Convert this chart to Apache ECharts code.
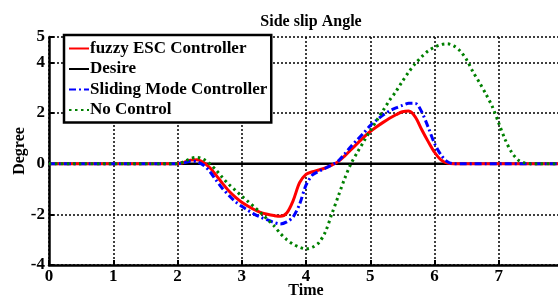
<!DOCTYPE html>
<html>
<head>
<meta charset="utf-8">
<script src="https://cdn.jsdelivr.net/npm/echarts@6/dist/echarts.min.js"></script>
<style>
  html, body { margin: 0; padding: 0; background: #fff; overflow: hidden; }
  #chart { width: 558px; height: 296px; }
</style>
</head>
<body>
<div id="chart"></div>
<script>
  // sample times (s)
  const times = [0, 2.0, 2.1, 2.2, 2.3, 2.4, 2.5, 2.6, 2.7, 2.8, 2.9,
    3.0, 3.1, 3.2, 3.3, 3.4, 3.5, 3.6, 3.7, 3.8, 3.9,
    4.0, 4.1, 4.2, 4.3, 4.4, 4.5, 4.6, 4.7, 4.8, 4.9,
    5.0, 5.1, 5.2, 5.3, 5.4, 5.5, 5.6, 5.7, 5.8, 5.9,
    6.0, 6.1, 6.2, 6.3, 6.4, 6.5, 6.6, 6.7, 6.8, 6.9,
    7.0, 7.1, 7.2, 7.3, 7.4, 7.5, 7.6, 8.0]

  const fuzzyEsc = [0, 0, 0.05, 0.14, 0.15, 0.05, -0.15, -0.45, -0.78, -1.08, -1.32,
    -1.52, -1.68, -1.82, -1.93, -2.0, -2.05, -2.08, -1.95, -1.46, -0.75,
    -0.42, -0.32, -0.25, -0.17, -0.06, 0.08, 0.3, 0.55, 0.8, 1.05,
    1.27, 1.46, 1.63, 1.79, 1.93, 2.05, 2.08, 1.85, 1.35, 0.88,
    0.45, 0.15, 0.02, 0, 0, 0, 0, 0, 0, 0,
    0, 0, 0, 0, 0, 0, 0, 0]

  const desire = times.map(() => 0)

  const slidingMode = [0, 0, 0.03, 0.1, 0.08, -0.05, -0.3, -0.65, -0.98, -1.25, -1.5,
    -1.68, -1.85, -2.0, -2.12, -2.22, -2.32, -2.38, -2.3, -2.1, -1.6,
    -0.85, -0.45, -0.3, -0.18, -0.05, 0.1, 0.38, 0.68, 0.95, 1.22,
    1.5, 1.72, 1.92, 2.08, 2.2, 2.3, 2.38, 2.38, 2.05, 1.45,
    0.8, 0.35, 0.08, 0, 0, 0, 0, 0, 0, 0,
    0, 0, 0, 0, 0, 0, 0, 0]

  const noControl = [0, 0, 0.08, 0.2, 0.25, 0.18, 0.0, -0.25, -0.55, -0.82, -1.05,
    -1.28, -1.5, -1.72, -1.95, -2.2, -2.45, -2.75, -3.0, -3.18, -3.3,
    -3.36, -3.3, -3.12, -2.7, -2.0, -1.3, -0.6, 0.0, 0.45, 0.88,
    1.3, 1.7, 2.1, 2.5, 2.85, 3.25, 3.62, 3.95, 4.22, 4.45,
    4.6, 4.7, 4.73, 4.65, 4.45, 4.1, 3.62, 3.2, 2.75, 2.25,
    1.6, 0.95, 0.45, 0.15, 0.03, 0, 0, 0]

  const seriesNames = ['fuzzy ESC Controller', 'Desire', 'Sliding Mode Controller', 'No Control']

  const pairs = vals => times.map((t, i) => [t, vals[i]])
  const font = 'Liberation Serif'

  let myChart = echarts.init(document.getElementById('chart'))
  myChart.setOption({
    animation: false,
    title: {
      text: 'Side slip Angle',
      left: 306,
      textAlign: 'center',
      top: 9,
      textStyle: { fontFamily: font, fontWeight: 'bold', fontSize: 16, color: '#000' }
    },
    legend: {
      orient: 'vertical',
      left: 64,
      top: 35,
      padding: [5, 4, 4, 4],
      itemGap: 3.5,
      itemWidth: 20,
      itemHeight: 17,
      borderColor: '#000',
      borderWidth: 2.5,
      backgroundColor: '#fff',
      itemStyle: { opacity: 0 },
      textStyle: { fontFamily: font, fontWeight: 'bold', fontSize: 17, color: '#000', padding: [0, 0, 0, -4] },
      data: seriesNames
    },
    grid: { left: 49, right: -5, top: 37, bottom: 31, containLabel: false, outerBoundsMode: 'none' },
    xAxis: {
      type: 'value',
      min: 0,
      max: 8,
      interval: 1,
      name: 'Time',
      nameLocation: 'middle',
      nameGap: 18,
      nameMoveOverlap: false,
      nameTextStyle: { fontFamily: font, fontWeight: 'bold', fontSize: 16, color: '#000' },
      axisLine: { onZero: false, lineStyle: { color: '#000', width: 2.5 } },
      axisTick: { inside: true, length: 5, lineStyle: { color: '#000', width: 2 } },
      axisLabel: { fontFamily: font, fontWeight: 'bold', fontSize: 17, color: '#000', margin: 3 },
      splitLine: { show: true, lineStyle: { color: '#000', type: [2, 2], width: 1.5 } }
    },
    yAxis: {
      type: 'value',
      min: -4,
      max: 5,
      interval: 2,
      name: 'Degree',
      nameLocation: 'middle',
      nameGap: 21,
      nameMoveOverlap: false,
      nameTextStyle: { fontFamily: font, fontWeight: 'bold', fontSize: 16, color: '#000' },
      axisLine: { onZero: false, lineStyle: { color: '#000', width: 2.5 } },
      axisTick: { inside: true, length: 5, lineStyle: { color: '#000', width: 2 } },
      axisLabel: { fontFamily: font, fontWeight: 'bold', fontSize: 17, color: '#000', margin: 4 },
      splitLine: { show: true, lineStyle: { color: '#000', type: [2, 2], width: 1.5 } }
    },
    series: [
      {
        name: seriesNames[0], type: 'line', data: pairs(fuzzyEsc), showSymbol: false, symbol: 'none', smooth: 0.3,
        lineStyle: { color: '#ff0000', width: 3 }, itemStyle: { color: '#ff0000' }, z: 3
      },
      {
        name: seriesNames[1], type: 'line', data: pairs(desire), showSymbol: false, symbol: 'none',
        lineStyle: { color: '#000', width: 2.5 }, itemStyle: { color: '#000' }, z: 2
      },
      {
        name: seriesNames[2], type: 'line', data: pairs(slidingMode), showSymbol: false, symbol: 'none', smooth: 0.3,
        lineStyle: { color: '#0000ff', width: 3, type: [7, 3, 2, 3] }, itemStyle: { color: '#0000ff' }, z: 4
      },
      {
        name: seriesNames[3], type: 'line', data: pairs(noControl), showSymbol: false, symbol: 'none', smooth: 0.3,
        lineStyle: { color: '#008000', width: 3, type: [2.5, 3.5] }, itemStyle: { color: '#008000' }, z: 5
      }
    ]
  })
</script>
</body>
</html>
